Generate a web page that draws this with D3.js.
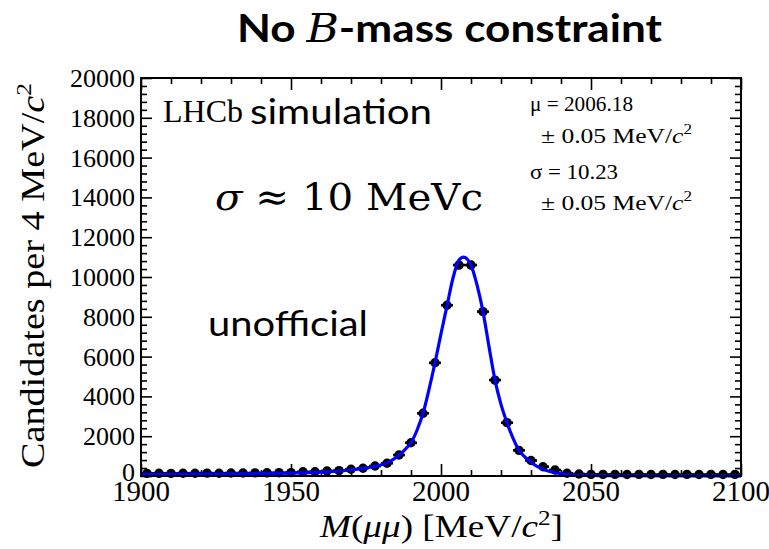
<!DOCTYPE html>
<html>
<head>
<meta charset="utf-8">
<script src="https://cdn.jsdelivr.net/npm/d3@7"></script>
<style>
  html, body { margin: 0; padding: 0; background: #fff; }
  svg { display: block; }
  .serif { font-family: "Liberation Serif", "Times New Roman", serif; }
  .sans { font-family: Lato, "Open Sans", sans-serif; }
  .math { font-family: "DejaVu Serif", serif; }
</style>
</head>
<body>
<svg id="chart" width="769" height="549"></svg>
<script>
// Dimuon invariant-mass histogram, 4 MeV bins
const binCentres = [1902,1906,1910,1914,1918,1922,1926,1930,1934,1938,1942,1946,1950,1954,1958,1962,1966,1970,1974,1978,
  1982,1986,1990,1994,1998,2002,2006,2010,2014,2018,2022,2026,2030,2034,2038,2042,2046,2050,2054,2058,
  2062,2066,2070,2074,2078,2082,2086,2090,2094,2098];
const candidates = [130,135,130,140,140,145,140,150,150,155,160,166,170,210,215,250,270,340,390,500,
  640,1055,1670,3150,5690,8580,10600,10600,8260,4820,2680,1290,780,467,300,136,100,84,80,80,
  75,80,75,80,75,80,75,80,75,80];
const binWidth = 4;

// Fitted line shape
const fitMass = [1900,1910,1920,1930,1940,1950,1956,1962,1966,1970,1974,1978,1982,1984,1986,1988,1990,1992,1994,1996,
  1998,2000,2002,2004,2006,2007.5,2010,2012,2014,2016,2018,2020,2022,2024,2026,2028,2030,2032,2034,2036,
  2038,2040,2044,2050,2060,2080,2100];
const fitValue = [80,85,95,105,120,145,170,210,245,300,380,490,660,820,1040,1330,1670,2300,3150,4350,
  5690,7150,8550,9950,10850,11000,10600,9600,8260,6500,4820,3600,2680,1900,1290,950,700,480,340,240,
  165,115,60,30,12,4,2];

const xMajorTicks = [1900,1950,2000,2050,2100];
const yMajorTicks = [0,2000,4000,6000,8000,10000,12000,14000,16000,18000,20000];

const svg = d3.select("#chart");
const plot = { left: 141, right: 741, top: 78, bottom: 476 };

const x = d3.scaleLinear().domain([1900, 2100]).range([plot.left, plot.right]);
const y = d3.scaleLinear().domain([0, 20000]).range([plot.bottom, plot.top]);

const xMinor = d3.range(1900, 2101, 10).filter(v => v % 50 !== 0);
const yMinor = d3.range(0, 20001, 400).filter(v => v % 2000 !== 0);

function styleAxis(g) {
  g.select(".domain").remove();
  g.selectAll(".tick line").attr("stroke", "#000").attr("stroke-width", 1.6);
}

// Ticks on all four sides, pointing inward
const axes = svg.append("g");
axes.append("g").attr("transform", `translate(0,${plot.bottom})`)
  .call(d3.axisBottom(x).tickValues(xMajorTicks).tickSize(-12).tickFormat(""))
  .call(styleAxis);
axes.append("g").attr("transform", `translate(0,${plot.bottom})`)
  .call(d3.axisBottom(x).tickValues(xMinor).tickSize(-6).tickFormat(""))
  .call(styleAxis);
axes.append("g").attr("transform", `translate(0,${plot.top})`)
  .call(d3.axisTop(x).tickValues(xMajorTicks).tickSize(-12).tickFormat(""))
  .call(styleAxis);
axes.append("g").attr("transform", `translate(0,${plot.top})`)
  .call(d3.axisTop(x).tickValues(xMinor).tickSize(-6).tickFormat(""))
  .call(styleAxis);
axes.append("g").attr("transform", `translate(${plot.left},0)`)
  .call(d3.axisLeft(y).tickValues(yMajorTicks).tickSize(-11).tickFormat(""))
  .call(styleAxis);
axes.append("g").attr("transform", `translate(${plot.left},0)`)
  .call(d3.axisLeft(y).tickValues(yMinor).tickSize(-6).tickFormat(""))
  .call(styleAxis);
axes.append("g").attr("transform", `translate(${plot.right},0)`)
  .call(d3.axisRight(y).tickValues(yMajorTicks).tickSize(-11).tickFormat(""))
  .call(styleAxis);
axes.append("g").attr("transform", `translate(${plot.right},0)`)
  .call(d3.axisRight(y).tickValues(yMinor).tickSize(-6).tickFormat(""))
  .call(styleAxis);

// Tick labels
svg.append("g").selectAll("text").data(xMajorTicks).join("text")
  .attr("class", "serif")
  .attr("x", d => x(d)).attr("y", 501)
  .attr("text-anchor", "middle").attr("font-size", 29)
  .text(d => d);
svg.append("g").selectAll("text").data(yMajorTicks).join("text")
  .attr("class", "serif")
  .attr("x", 135).attr("y", d => y(d) + 9 - (d === 0 ? 4 : 0))
  .attr("text-anchor", "end").attr("font-size", 26)
  .text(d => d);

// Data points with bin-width bars
const pts = svg.append("g");
pts.selectAll("line").data(binCentres).join("line")
  .attr("x1", (d) => x(d - binWidth / 2)).attr("x2", (d) => x(d + binWidth / 2))
  .attr("y1", (d, i) => y(candidates[i])).attr("y2", (d, i) => y(candidates[i]))
  .attr("stroke", "#000").attr("stroke-width", 2.6);
pts.selectAll("circle").data(binCentres).join("circle")
  .attr("cx", d => x(d)).attr("cy", (d, i) => y(candidates[i]))
  .attr("r", 4.7).attr("fill", "#000");

// Fit curve
const line = d3.line()
  .x((d, i) => x(fitMass[i]))
  .y((d, i) => y(fitValue[i]))
  .curve(d3.curveMonotoneX);
svg.append("path").datum(fitValue)
  .attr("d", line)
  .attr("fill", "none").attr("stroke", "#0000ff").attr("stroke-width", 3.2);

// Frame
svg.append("rect")
  .attr("x", plot.left).attr("y", plot.top)
  .attr("width", plot.right - plot.left).attr("height", plot.bottom - plot.top)
  .attr("fill", "none").attr("stroke", "#000").attr("stroke-width", 2);

// Title
const title = svg.append("text").attr("x", 237).attr("y", 42)
  .attr("font-size", 39)
  .attr("textLength", 425).attr("lengthAdjust", "spacingAndGlyphs");
title.append("tspan").attr("class", "sans").attr("font-weight", "bold").text("No ");
title.append("tspan").attr("class", "math").attr("font-style", "italic").text("B");
title.append("tspan").attr("class", "sans").attr("font-weight", "bold").text("-mass constraint");

// Annotations inside the frame
svg.append("text").attr("class", "serif").attr("x", 163).attr("y", 122)
  .attr("font-size", 31).attr("textLength", 80).attr("lengthAdjust", "spacingAndGlyphs").text("LHCb");
svg.append("text").attr("class", "sans").attr("x", 250).attr("y", 124)
  .attr("font-size", 35).attr("textLength", 182).attr("lengthAdjust", "spacingAndGlyphs").text("simulation");
const sig = svg.append("text").attr("class", "math").attr("x", 215).attr("y", 210)
  .attr("font-size", 38).attr("textLength", 268).attr("lengthAdjust", "spacingAndGlyphs");
sig.append("tspan").attr("font-style", "italic").text("σ");
sig.append("tspan").text(" ≈ 10 MeVc");
svg.append("text").attr("class", "sans").attr("x", 208).attr("y", 336)
  .attr("font-size", 35).attr("textLength", 160).attr("lengthAdjust", "spacingAndGlyphs").text("unofficial");

// Fit results
const stats = svg.append("g").attr("class", "serif").attr("font-size", 21);
stats.append("text").attr("x", 530).attr("y", 111)
  .attr("textLength", 103).attr("lengthAdjust", "spacingAndGlyphs").text("μ = 2006.18");
const e1 = stats.append("text").attr("x", 541).attr("y", 143)
  .attr("textLength", 151).attr("lengthAdjust", "spacingAndGlyphs");
e1.append("tspan").text("± 0.05 MeV/");
e1.append("tspan").attr("font-style", "italic").text("c");
e1.append("tspan").attr("font-size", 14).attr("dy", -9).text("2");
stats.append("text").attr("x", 530).attr("y", 179)
  .attr("textLength", 88).attr("lengthAdjust", "spacingAndGlyphs").text("σ = 10.23");
const e2 = stats.append("text").attr("x", 541).attr("y", 210)
  .attr("textLength", 151).attr("lengthAdjust", "spacingAndGlyphs");
e2.append("tspan").text("± 0.05 MeV/");
e2.append("tspan").attr("font-style", "italic").text("c");
e2.append("tspan").attr("font-size", 14).attr("dy", -9).text("2");

// Axis titles
const xt = svg.append("text").attr("class", "serif").attr("x", 320).attr("y", 537)
  .attr("font-size", 31).attr("textLength", 243).attr("lengthAdjust", "spacingAndGlyphs");
xt.append("tspan").attr("font-style", "italic").text("M");
xt.append("tspan").text("(");
xt.append("tspan").attr("font-style", "italic").text("μμ");
xt.append("tspan").text(") [MeV/");
xt.append("tspan").attr("font-style", "italic").text("c");
xt.append("tspan").attr("font-size", 21).attr("dy", -12).text("2");
xt.append("tspan").attr("dy", 12).text("]");

const yt = svg.append("text").attr("class", "serif")
  .attr("transform", "translate(44,468) rotate(-90)")
  .attr("font-size", 33).attr("textLength", 385).attr("lengthAdjust", "spacingAndGlyphs");
yt.append("tspan").text("Candidates per 4 MeV/");
yt.append("tspan").attr("font-style", "italic").text("c");
yt.append("tspan").attr("font-size", 22).attr("dy", -13).text("2");
</script>
</body>
</html>
